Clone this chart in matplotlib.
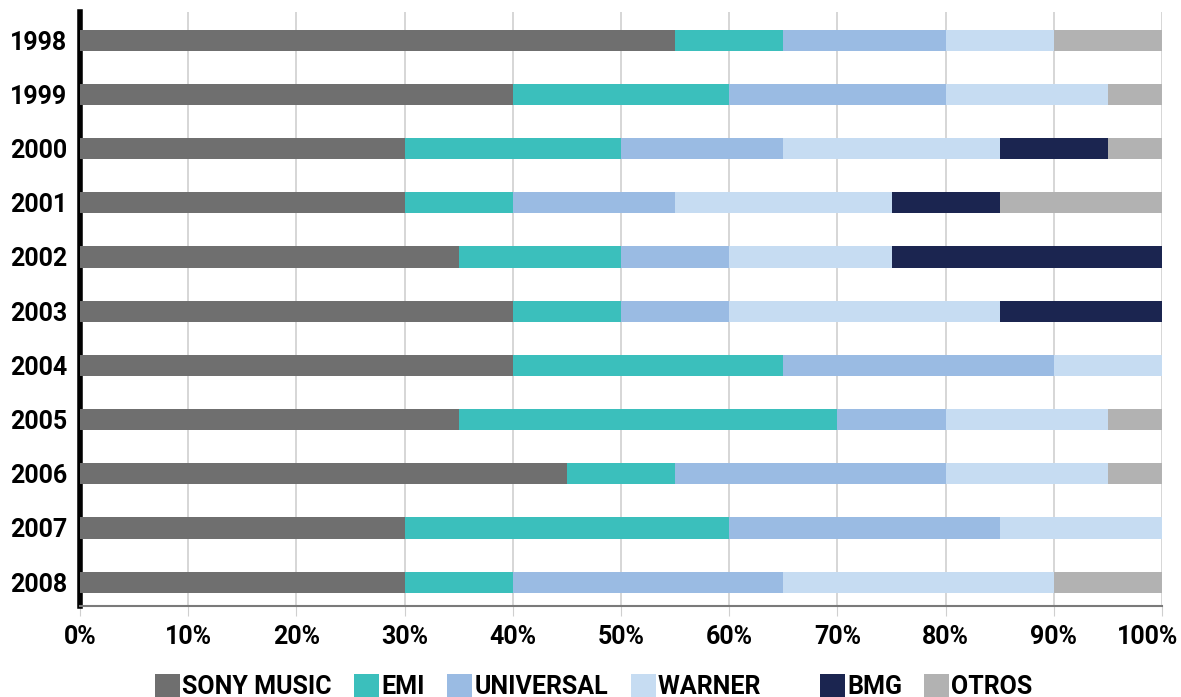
import matplotlib
matplotlib.use("Agg")
import matplotlib.pyplot as plt
import matplotlib.transforms as mtransforms
import numpy as np

years = ["1998", "1999", "2000", "2001", "2002", "2003", "2004", "2005", "2006", "2007", "2008"]
sony      = [55, 40, 30, 30, 35, 40, 40, 35, 45, 30, 30]
emi       = [10, 20, 20, 10, 15, 10, 25, 35, 10, 30, 10]
universal = [15, 20, 15, 15, 10, 10, 25, 10, 25, 25, 25]
warner    = [10, 15, 20, 20, 15, 25, 10, 15, 15, 15, 25]
bmg       = [0, 0, 10, 10, 25, 15, 0, 0, 0, 0, 0]
otros     = [10, 5, 5, 15, 0, 0, 0, 5, 5, 0, 10]

series = [
    ("SONY MUSIC", sony, "#6f6f6f"),
    ("EMI", emi, "#3bbfbc"),
    ("UNIVERSAL", universal, "#9abbe3"),
    ("WARNER      ", warner, "#c6dcf2"),
    ("BMG", bmg, "#1b2550"),
    ("OTROS", otros, "#b2b2b2"),
]

plt.rcParams['font.family'] = ['Roboto', 'DejaVu Sans']
plt.rcParams['font.weight'] = 'bold'

fig = plt.figure(figsize=(11.81, 6.97), dpi=100)
ax = fig.add_axes([80/1181, 1 - 606/697, (1162-80)/1181, (606-12)/697])

y = np.arange(len(years))
left = np.zeros(len(years))
handles = []
for name, vals, col in series:
    v = np.array(vals, dtype=float)
    b = ax.barh(y, v, left=left, height=0.39, color=col, label=name, zorder=3)
    handles.append(b)
    left += v

ax.set_xlim(0, 100)
ax.set_ylim(len(years) - 1 + 0.44, -0.52)
ax.set_yticks(y)
ax.set_yticklabels(years, fontsize=18, fontweight='bold')
ax.set_xticks(np.arange(0, 101, 10))
ax.set_xticklabels([f"{t}%" for t in range(0, 101, 10)], fontsize=18, fontweight='bold')
ax.xaxis.grid(True, color='#cfcfcf', linewidth=1.2, zorder=0)
ax.tick_params(axis='y', length=0, pad=9)
ax.tick_params(axis='x', length=7, color='#cfcfcf', pad=7)
for s in ['top', 'right']:
    ax.spines[s].set_visible(False)
ax.spines['left'].set_linewidth(4)
ax.spines['left'].set_color('black')
ax.spines['bottom'].set_color('#7a7a7a')
ax.spines['bottom'].set_linewidth(1.5)

# nudge the last tick label so it stays inside the figure
lbls = ax.get_xticklabels()
lbls[-1].set_transform(lbls[-1].get_transform() + mtransforms.ScaledTranslation(-14/100, 0, fig.dpi_scale_trans))

leg = fig.legend(handles=handles, loc='lower center', bbox_to_anchor=(0.503, -0.035), ncol=6,
                 frameon=False, handlelength=1.0, handleheight=1.0,
                 handletextpad=0.08, columnspacing=0.9, prop={'weight': 'bold', 'size': 18})

fig.savefig("out.png", dpi=100)
